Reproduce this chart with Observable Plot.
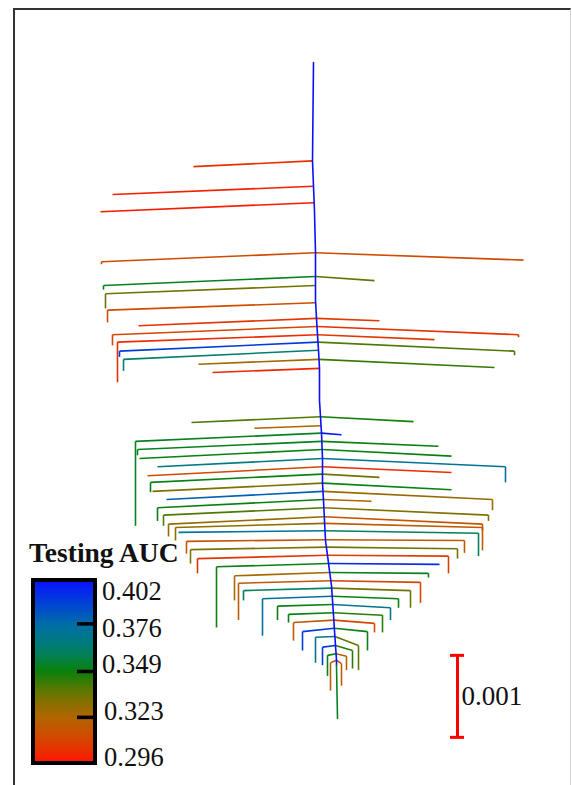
<!DOCTYPE html>
<html><head><meta charset="utf-8">
<script src="https://cdn.jsdelivr.net/npm/d3@7"></script>
<script src="https://cdn.jsdelivr.net/npm/@observablehq/plot@0.6"></script>
<style>
html,body{margin:0;padding:0;background:#fff;}
#chart{position:relative;width:572px;height:785px;overflow:hidden;}
#frame{position:absolute;left:13px;top:8px;width:558px;height:800px;border-left:2px solid #333;border-top:2px solid #333;border-right:1px solid #d4d4d4;box-sizing:border-box;pointer-events:none;}
</style></head><body>
<div id="chart"><div id="frame"></div></div>
<script>
// Depth of every node is the loss drop in units of 1e-4; x is the tree layout position.
const DEPTH_UNIT = 1e-4;

// Main trunk (best path)
const stemX     = [313, 312, 313, 314, 315, 315, 316, 317, 318, 319, 319, 320, 321, 322, 322, 323, 324, 325, 327, 329, 331, 332, 333, 334, 335, 336, 336];
const stemDepth = [0, 12.0, 15.1, 18.2, 23.2, 29.0, 31.2, 33.2, 35.1, 37.3, 41.2, 43.2, 45.2, 48.3, 51.3, 53.4, 55.9, 58.3, 60.1, 62.0, 63.8, 65.6, 67.4, 69.3, 71.1, 72.9, 73.5];
const stemAUC = 0.402;
const tailX = [336, 337];
const tailDepth = [73.5, 80.0];
const tailAUC = 0.352;

// Side branches: depth where they leave the trunk, end x, end depth, depth of the descending leaf, testing AUC
const branchFrom = [
  12.0, 15.1, 17.1, 23.2, 23.2, 26.1, 26.1, 27.2, 29.3, 31.2, 31.2, 32.2, 32.2, 33.2, 33.2, 34.1, 34.1, 35.1, 36.2, 36.2, 37.3,
  43.2, 43.2, 44.3, 45.2, 45.2, 46.2, 46.2, 47.2, 47.2, 48.3, 48.3, 49.3, 49.3, 50.2, 50.2, 51.3, 51.3, 52.3, 52.3, 53.3, 53.3, 54.3, 54.3, 55.4, 55.4,
  56.2, 56.2, 57.1, 57.1, 58.2, 58.2, 59.1, 59.1, 60.1, 60.1, 61.1, 61.1, 62.2, 62.2, 63.2, 63.2, 64.1, 64.1, 65.1, 65.1,
  66.1, 66.1, 67.1, 67.1, 68.0, 68.0, 69.0, 69.0, 70.0, 70.0, 71.1, 71.1, 72.1, 72.1, 72.9, 72.9
];
const branchEndX = [
  193, 112, 100, 101, 523, 103, 374, 105, 107, 138, 379, 112, 518, 117, 434, 119, 514, 123, 198, 494, 212,
  191, 413, 254, 341, 135, 137, 438, 139, 451, 157, 505, 147, 451, 150, 379, 152, 451, 166, 492, 157, 371, 163, 488, 168, 482,
  175, 482, 178, 478, 186, 464, 190, 457, 197, 448, 216, 439, 234, 428, 238, 420, 243, 410, 262, 398,
  277, 390, 288, 382, 293, 374, 302, 367, 315, 358, 322, 352, 327, 346, 330, 341
];
const branchTo = [
  12.7, 16.1, 18.2, 24.3, 24.1, 27.2, 26.6, 28.2, 30.2, 32.1, 31.5, 33.2, 33.2, 34.1, 33.8, 35.2, 35.2, 36.2, 36.8, 37.2, 37.8,
  43.9, 43.8, 44.6, 45.4, 46.2, 47.2, 46.8, 48.3, 48.0, 49.3, 49.3, 50.4, 50.0, 51.2, 50.6, 52.3, 52.1, 53.3, 53.3, 54.3, 53.5, 55.2, 55.2, 56.3, 56.3,
  56.7, 56.7, 57.3, 57.4, 58.4, 58.3, 59.4, 59.3, 60.5, 60.2, 61.5, 61.2, 62.6, 62.3, 63.5, 63.4, 64.4, 64.4, 65.4, 65.4,
  66.3, 66.5, 67.3, 67.4, 68.3, 68.4, 69.4, 69.4, 70.1, 71.1, 71.3, 71.7, 72.3, 72.4, 73.2, 73.3
];
const branchDrop = [
  12.7, 16.1, 18.2, 24.6, 24.1, 27.7, 26.6, 30.0, 31.7, 32.1, 31.5, 34.5, 33.5, 39.0, 33.8, 35.9, 35.7, 37.6, 36.8, 37.2, 37.8,
  43.9, 43.8, 44.6, 45.4, 56.5, 47.9, 46.8, 48.3, 48.0, 49.3, 51.2, 50.4, 50.0, 52.4, 50.6, 52.3, 52.1, 53.3, 54.6, 55.9, 53.5, 56.5, 55.9, 57.8, 57.1,
  58.3, 59.5, 57.3, 60.2, 59.9, 59.8, 61.1, 60.5, 62.3, 62.3, 68.9, 61.2, 65.6, 62.8, 68.0, 65.9, 65.6, 66.5, 69.9, 66.5,
  68.0, 68.0, 68.3, 69.5, 70.5, 69.5, 71.7, 71.7, 73.2, 74.1, 73.5, 73.9, 74.8, 74.1, 76.6, 76.0
];
const branchAUC = [
  0.303, 0.299, 0.298, 0.312, 0.312, 0.352, 0.338, 0.335, 0.313, 0.305, 0.306, 0.310, 0.304, 0.302, 0.306, 0.390, 0.340, 0.362, 0.326, 0.343, 0.301,
  0.340, 0.348, 0.322, 0.400, 0.352, 0.352, 0.350, 0.350, 0.350, 0.366, 0.372, 0.312, 0.302, 0.350, 0.335, 0.333, 0.350, 0.380, 0.328, 0.350, 0.322, 0.340, 0.332, 0.328, 0.315,
  0.330, 0.318, 0.372, 0.360, 0.315, 0.318, 0.333, 0.335, 0.305, 0.308, 0.350, 0.395, 0.325, 0.352, 0.318, 0.310, 0.360, 0.335, 0.375, 0.350,
  0.350, 0.370, 0.350, 0.345, 0.318, 0.310, 0.390, 0.350, 0.370, 0.338, 0.390, 0.345, 0.350, 0.320, 0.320, 0.318
];

// Colour map for testing AUC
const aucStops  = [0.296, 0.309, 0.323, 0.336, 0.349, 0.362, 0.376, 0.389, 0.402];
const aucColors = ["#ff1400", "#d84400", "#b06600", "#6c7600", "#0a800a", "#00806e", "#006ea6", "#0040d8", "#0a10ff"];
const legendTicks = [0.376, 0.349, 0.323];
const legendEnds = [0.402, 0.296];

// Scale bar
const scaleBarValue = 0.001;
const scaleBarTop = 72.3;
const scaleBarX = 457;

const trunkAt = d3.scaleLinear().domain(stemDepth).range(stemX);
const stem = stemDepth.map((d, i) => ({x: stemX[i], d, auc: stemAUC, g: "stem"}))
  .concat(tailDepth.map((d, i) => ({x: tailX[i], d, auc: tailAUC, g: "tail"})));
const branches = branchFrom.map((d, i) => ({
  x0: trunkAt(d), d0: d, x1: branchEndX[i], d1: branchTo[i], d2: branchDrop[i], auc: branchAUC[i]
}));
const barLen = scaleBarValue / DEPTH_UNIT;
const bar = [{x: scaleBarX, top: scaleBarTop, bottom: scaleBarTop + barLen}];

const serif = "'Liberation Serif', 'Times New Roman', serif";

const plot = Plot.plot({
  width: 572,
  height: 785,
  margin: 0,
  x: {domain: [0, 572], range: [0, 572], axis: null},
  y: {domain: [0, 80], range: [62, 718], axis: null},
  color: {type: "linear", domain: aucStops, range: aucColors, interpolate: "rgb"},
  marks: [
    Plot.link(branches, {x1: "x1", y1: "d1", x2: "x1", y2: "d2", stroke: "auc", strokeWidth: 1.6}),
    Plot.link(branches, {x1: "x0", y1: "d0", x2: "x1", y2: "d1", stroke: "auc", strokeWidth: 1.6}),
    Plot.line(stem, {x: "x", y: "d", z: "g", stroke: "auc", strokeWidth: 1.6}),
    Plot.ruleX(bar, {x: "x", y1: "top", y2: "bottom", stroke: "#ff0000", strokeWidth: 3}),
    Plot.ruleY(bar, {y: "top", x1: d => d.x - 7, x2: d => d.x + 7, stroke: "#ff0000", strokeWidth: 3}),
    Plot.ruleY(bar, {y: "bottom", x1: d => d.x - 7, x2: d => d.x + 7, stroke: "#ff0000", strokeWidth: 3}),
    Plot.text(bar, {x: d => d.x + 4, y: d => (d.top + d.bottom) / 2, text: () => String(scaleBarValue),
      textAnchor: "start", fontSize: 27, fontFamily: serif, fill: "#111"})
  ]
});
plot.style.background = "transparent";
document.getElementById("chart").prepend(plot);

// Vertical colour bar legend
const svg = d3.select(plot);
const col = d3.scaleLinear().domain(aucStops).range(aucColors).interpolate(d3.interpolateRgb);
const barTop = 578, barBottom = 765, barLeft = 31, barRight = 97;
const legY = d3.scaleLinear().domain([legendEnds[1], legendEnds[0]]).range([barBottom, barTop]);
const grad = svg.append("defs").append("linearGradient")
  .attr("id", "aucGrad").attr("x1", 0).attr("y1", 1).attr("x2", 0).attr("y2", 0);
d3.range(0, 1.0001, 0.05).forEach(t => {
  const v = legendEnds[1] + t * (legendEnds[0] - legendEnds[1]);
  grad.append("stop").attr("offset", t).attr("stop-color", col(v));
});
const leg = svg.append("g").attr("text-anchor", "start");
leg.append("text").attr("x", 29).attr("y", 562)
  .attr("font-family", serif).attr("font-weight", "bold").attr("font-size", 27.5).attr("fill", "#111")
  .text("Testing AUC");
leg.append("rect").attr("x", barLeft + 2).attr("y", barTop + 2)
  .attr("width", barRight - barLeft - 4).attr("height", barBottom - barTop - 4)
  .attr("fill", "url(#aucGrad)").attr("stroke", "#000").attr("stroke-width", 4);
leg.selectAll("line.tick").data(legendTicks).join("line")
  .attr("x1", 77).attr("x2", 95).attr("y1", d => legY(d)).attr("y2", d => legY(d))
  .attr("stroke", "#000").attr("stroke-width", 3.5);
const labelY = {0.402: 591, 0.376: 628, 0.349: 664, 0.323: 711, 0.296: 757};
const labelX = {0.402: 102, 0.376: 102, 0.349: 102, 0.323: 104, 0.296: 104};
leg.selectAll("text.lab").data([legendEnds[0], ...legendTicks, legendEnds[1]]).join("text")
  .attr("x", d => labelX[d]).attr("y", d => labelY[d]).attr("dy", "0.35em")
  .attr("font-family", serif).attr("font-size", 26.5).attr("fill", "#111")
  .text(d => d.toFixed(3));
</script>
</body></html>
